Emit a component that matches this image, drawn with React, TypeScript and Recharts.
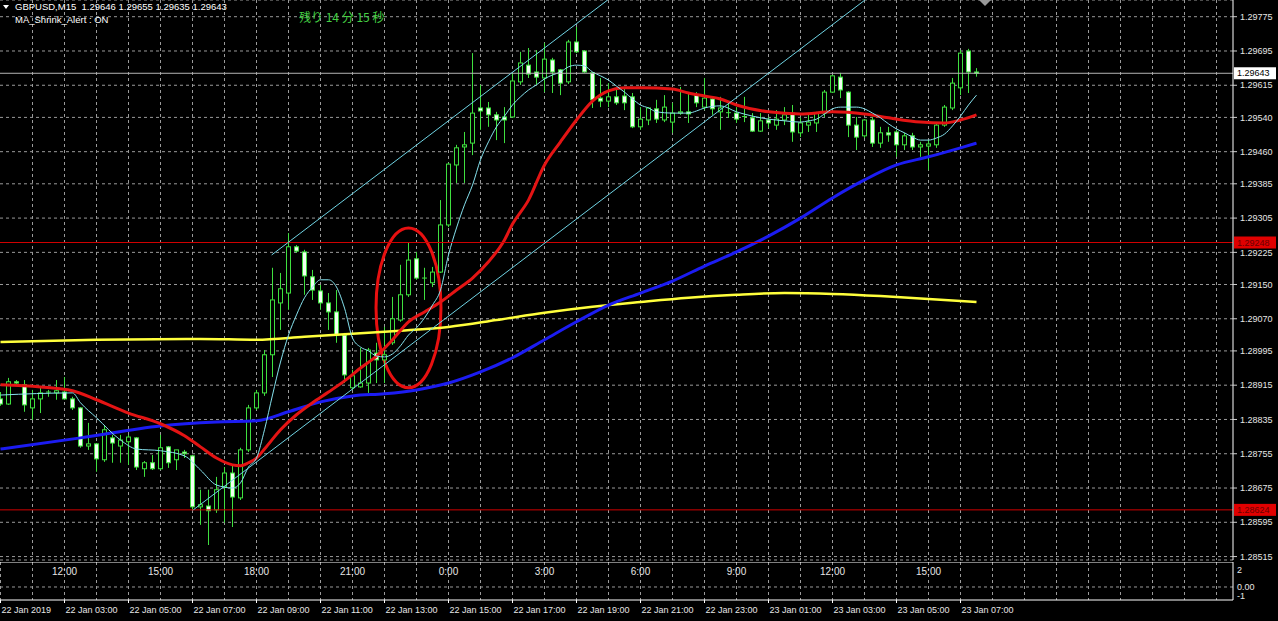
import React from "react";
import {
  ComposedChart,
  Bar,
  Line,
  Scatter,
  XAxis,
  YAxis,
  CartesianGrid,
  ReferenceLine,
  ReferenceArea,
} from "recharts";

// GBPUSD M15, 22 Jan 01:00 .. 23 Jan 07:30 (bar index k)
const symbol = "GBPUSD,M15";

const opens = [
  1.28883, 1.28871, 1.28923, 1.28916, 1.28862, 1.28883, 1.28897, 1.28897, 1.28899, 1.28883,
  1.28862, 1.28773, 1.28778, 1.28741, 1.28792, 1.28773, 1.28783, 1.28792, 1.2872, 1.28734,
  1.2872, 1.28771, 1.28741, 1.28759, 1.2875, 1.28631, 1.28633, 1.28624, 1.28678, 1.2871,
  1.28652, 1.28764, 1.28862, 1.28897, 1.28986, 1.29107, 1.2913, 1.29238, 1.29226, 1.29168,
  1.29135, 1.29107, 1.29086, 1.29032, 1.28909, 1.28911, 1.2892, 1.2899, 1.28974, 1.29014,
  1.29067, 1.29126, 1.2921, 1.29165, 1.29154, 1.29179, 1.29289, 1.29429, 1.29471, 1.2948,
  1.29562, 1.29562, 1.29546, 1.29541, 1.29541, 1.29623, 1.29662, 1.29646, 1.29632, 1.29674,
  1.29651, 1.29623, 1.29716, 1.29695, 1.29644, 1.29585, 1.29578, 1.29588, 1.2959, 1.29588,
  1.29518, 1.29534, 1.2956, 1.29534, 1.29529, 1.2955, 1.29553, 1.29592, 1.29564, 1.29583,
  1.29553, 1.2955, 1.2955, 1.29541, 1.29539, 1.29508, 1.29534, 1.29522, 1.29534, 1.2955,
  1.29504, 1.29522, 1.29527, 1.2955, 1.29599, 1.29634, 1.29599, 1.29522, 1.29497, 1.29534,
  1.2948, 1.29504, 1.29506, 1.29476, 1.29497, 1.29471, 1.29473, 1.29476, 1.29522, 1.29562,
  1.29609, 1.29695, 1.29646,
];
const highs = [
  1.28899, 1.28932, 1.28927, 1.28927, 1.28904, 1.28909, 1.28904, 1.28927, 1.28934, 1.28888,
  1.28864, 1.28827, 1.2878, 1.28822, 1.28799, 1.28799, 1.28799, 1.28794, 1.28738, 1.28752,
  1.28799, 1.28773, 1.28764, 1.28764, 1.28752, 1.28671, 1.28671, 1.28701, 1.28724, 1.28729,
  1.28769, 1.28869, 1.28904, 1.28997, 1.29189, 1.29177, 1.2927, 1.29242, 1.29231, 1.29184,
  1.29149, 1.2913, 1.29137, 1.29037, 1.28951, 1.29002, 1.29002, 1.29014, 1.29051, 1.29121,
  1.29196, 1.29247, 1.29226, 1.29189, 1.29191, 1.29347, 1.29434, 1.29476, 1.29506, 1.2969,
  1.29616, 1.29576, 1.29553, 1.29564, 1.29644, 1.29693, 1.29702, 1.29697, 1.29714, 1.29679,
  1.29653, 1.29721, 1.29751, 1.29697, 1.29646, 1.29632, 1.2962, 1.29609, 1.29611, 1.29597,
  1.29564, 1.29564, 1.29581, 1.29592, 1.29574, 1.29611, 1.29597, 1.29599, 1.29632, 1.29585,
  1.29588, 1.29574, 1.29564, 1.29588, 1.2955, 1.2955, 1.29541, 1.29557, 1.29564, 1.29569,
  1.29539, 1.2955, 1.29553, 1.29604, 1.29639, 1.29644, 1.29601, 1.29541, 1.29536, 1.29541,
  1.29518, 1.29518, 1.29511, 1.29504, 1.29504, 1.29483, 1.29487, 1.29527, 1.29569, 1.29632,
  1.29697, 1.297, 1.29655,
];
const lows = [
  1.28867, 1.28869, 1.28913, 1.28853, 1.28834, 1.2885, 1.28888, 1.28881, 1.28881, 1.28857,
  1.28769, 1.28764, 1.28713, 1.28736, 1.28734, 1.28734, 1.28729, 1.28717, 1.28701, 1.28717,
  1.28717, 1.28722, 1.28717, 1.28745, 1.28624, 1.28589, 1.28542, 1.28617, 1.28594, 1.28584,
  1.28647, 1.28759, 1.28857, 1.2889, 1.28934, 1.29044, 1.29091, 1.29224, 1.29126, 1.29114,
  1.29091, 1.29044, 1.29014, 1.2892, 1.28904, 1.28909, 1.28897, 1.2892, 1.2892, 1.29009,
  1.29063, 1.29121, 1.29161, 1.29114, 1.29144, 1.29177, 1.29284, 1.29387, 1.29387, 1.29452,
  1.29511, 1.29518, 1.29487, 1.2948, 1.29539, 1.29616, 1.29632, 1.29616, 1.29599, 1.29597,
  1.29592, 1.29618, 1.2969, 1.29644, 1.29562, 1.29564, 1.29564, 1.29569, 1.29557, 1.29515,
  1.29511, 1.29522, 1.29527, 1.29529, 1.29504, 1.29546, 1.29527, 1.29564, 1.29557, 1.29546,
  1.29511, 1.29539, 1.29527, 1.29529, 1.29506, 1.29506, 1.29515, 1.29511, 1.29522, 1.29483,
  1.29494, 1.29506, 1.29506, 1.29541, 1.29597, 1.29585, 1.29494, 1.29464, 1.29492, 1.29471,
  1.29469, 1.29483, 1.29448, 1.29464, 1.29464, 1.29448, 1.29417, 1.29469, 1.29518, 1.29557,
  1.29592, 1.29597, 1.29635,
];
const closes = [
  1.28871, 1.28923, 1.2892, 1.28869, 1.28883, 1.28897, 1.28899, 1.28902, 1.28883, 1.28862,
  1.28773, 1.28778, 1.28743, 1.28811, 1.2878, 1.28787, 1.28794, 1.28724, 1.28734, 1.2872,
  1.28769, 1.28734, 1.28764, 1.28755, 1.28631, 1.28636, 1.28622, 1.28671, 1.2871, 1.28654,
  1.28764, 1.28862, 1.28897, 1.28986, 1.29114, 1.2914, 1.29238, 1.29228, 1.2917, 1.29137,
  1.29107, 1.29086, 1.29032, 1.28939, 1.28937, 1.2892, 1.28997, 1.28974, 1.28986, 1.2907,
  1.29126, 1.29207, 1.29165, 1.29163, 1.29179, 1.29289, 1.29431, 1.29469, 1.29476, 1.2955,
  1.29555, 1.29546, 1.29534, 1.29534, 1.29625, 1.29667, 1.29641, 1.29634, 1.29676, 1.29646,
  1.2962, 1.29716, 1.29693, 1.29646, 1.29581, 1.29578, 1.29588, 1.29574, 1.29574, 1.29518,
  1.29536, 1.29562, 1.29536, 1.29564, 1.2955, 1.29553, 1.29548, 1.29574, 1.29585, 1.2956,
  1.29562, 1.29551, 1.29536, 1.29542, 1.29508, 1.29532, 1.29527, 1.29536, 1.29546, 1.29506,
  1.29527, 1.29529, 1.2955, 1.29599, 1.29637, 1.29604, 1.29522, 1.29494, 1.29534, 1.2948,
  1.29504, 1.29499, 1.29476, 1.29497, 1.29471, 1.29476, 1.29478, 1.29522, 1.29564, 1.2962,
  1.2969, 1.29646, 1.29643,
];

// moving averages: [bar, price]
const fastMA: [number, number][] = [
  [0, 1.28892], [9, 1.28897], [10, 1.28874], [12, 1.28839], [15, 1.28787], [17, 1.28766],
  [20, 1.28762], [23, 1.2875], [25, 1.28717], [27, 1.28682], [29, 1.28675], [30, 1.28687],
  [31, 1.28724], [32, 1.28745], [33, 1.28811], [34, 1.28892], [35, 1.28969], [36, 1.29032],
  [37, 1.29079], [38, 1.29119], [39, 1.29144], [40, 1.29161], [41, 1.29161], [42, 1.29144],
  [43, 1.29095], [44, 1.29025], [45, 1.29004], [46, 1.28995], [47, 1.28983], [48, 1.28981],
  [49, 1.28988], [50, 1.29007], [51, 1.29032], [52, 1.29049], [53, 1.29072], [54, 1.29102],
  [55, 1.29137], [56, 1.29219], [57, 1.29282], [58, 1.29336], [59, 1.29382], [60, 1.29441],
  [61, 1.29483], [62, 1.29518], [63, 1.29543], [64, 1.29569], [65, 1.29588], [66, 1.29604],
  [67, 1.29616], [68, 1.2963], [69, 1.29639], [70, 1.29646], [71, 1.29658], [72, 1.29662],
  [73, 1.2966], [74, 1.29646], [75, 1.29637], [76, 1.29627], [77, 1.29613], [78, 1.29599],
  [79, 1.29583], [80, 1.29569], [81, 1.29562], [82, 1.29553], [84, 1.2955], [86, 1.2955],
  [87, 1.29555], [88, 1.29562], [90, 1.29567], [92, 1.29553], [94, 1.29543], [96, 1.29536],
  [98, 1.29532], [100, 1.29529], [101, 1.29532], [102, 1.29536], [103, 1.29548], [104, 1.2956],
  [105, 1.29564], [107, 1.29564], [108, 1.2956], [109, 1.2955], [110, 1.29539], [111, 1.29525],
  [112, 1.29513], [113, 1.29504], [114, 1.29494], [115, 1.29487], [116, 1.29487], [117, 1.29492],
  [118, 1.29501], [119, 1.2952], [120, 1.29543], [121, 1.29569], [122, 1.29592],
];
const midMA: [number, number][] = [
  [0, 1.28916], [5, 1.28911], [9, 1.28902], [12, 1.28881], [16, 1.2885], [20, 1.28825],
  [23, 1.28797], [25, 1.28771], [27, 1.28745], [29, 1.28729], [30, 1.28727], [31, 1.28734],
  [32, 1.28745], [33, 1.28766], [35, 1.28811], [37, 1.28846], [39, 1.28874], [41, 1.28899],
  [43, 1.28925], [45, 1.28955], [47, 1.28983], [49, 1.29021], [51, 1.29063], [53, 1.29086],
  [55, 1.29109], [57, 1.29137], [59, 1.29165], [61, 1.29203], [63, 1.29254], [64, 1.29291],
  [66, 1.29347], [68, 1.29429], [70, 1.29483], [72, 1.29534], [74, 1.29578], [76, 1.29602],
  [78, 1.29609], [80, 1.29609], [84, 1.29606], [86, 1.29597], [88, 1.2959], [90, 1.29583],
  [92, 1.29569], [96, 1.29553], [100, 1.29548], [104, 1.29553], [108, 1.29548], [111, 1.29539],
  [115, 1.29529], [118, 1.29527], [120, 1.29534], [122, 1.29546],
];
const slowMA: [number, number][] = [
  [0, 1.28766], [10, 1.28792], [20, 1.2882], [27, 1.28829], [32, 1.28832], [36, 1.28853],
  [40, 1.28876], [44, 1.2889], [48, 1.28895], [52, 1.28904], [56, 1.2892], [60, 1.28946],
  [64, 1.28979], [68, 1.29021], [72, 1.29063], [76, 1.29102], [80, 1.2913], [84, 1.29158],
  [88, 1.29193], [92, 1.29226], [96, 1.29263], [100, 1.29305], [104, 1.29352], [108, 1.29394],
  [112, 1.29429], [116, 1.29448], [120, 1.29469], [122, 1.2948],
];
const longMA: [number, number][] = [
  [0, 1.29016], [12, 1.29021], [25, 1.29023], [32, 1.29021], [38, 1.29028], [44, 1.29035],
  [50, 1.29042], [56, 1.29051], [62, 1.29067], [68, 1.29084], [74, 1.29098], [80, 1.29109],
  [86, 1.29119], [92, 1.29126], [98, 1.2913], [104, 1.29128], [110, 1.29123], [116, 1.29116],
  [122, 1.29109],
];

// trend channel anchors [bar, price] and the hand-drawn ellipse box
const channelUpper: [number, number][] = [[33.9, 1.29219], [75.9, 1.29814]];
const channelLower: [number, number][] = [[24.1, 1.28624], [108.06, 1.29814]];
const ellipseBars = [46.94, 55.06];
const ellipsePrices = [1.28909, 1.29282];

const levelLines = [1.29248, 1.28624];
const priceTicks = [
  1.29775, 1.29695, 1.29615, 1.2954, 1.2946, 1.29385, 1.29305, 1.29225, 1.2915,
  1.2907, 1.28995, 1.28915, 1.28835, 1.28755, 1.28675, 1.28595, 1.28515,
];
const priceDomain = [1.28507, 1.29814];
const barDomain = [-0.0625, 154.0625];
const gridBars = Array.from({ length: 39 }, (_, i) => i * 4);

const dateTicks = [0, 8, 16, 24, 32, 40, 48, 56, 64, 72, 80, 88, 96, 104, 112, 120];
const dateLabels = [
  "22 Jan 2019", "22 Jan 03:00", "22 Jan 05:00", "22 Jan 07:00", "22 Jan 09:00",
  "22 Jan 11:00", "22 Jan 13:00", "22 Jan 15:00", "22 Jan 17:00", "22 Jan 19:00",
  "22 Jan 21:00", "22 Jan 23:00", "23 Jan 01:00", "23 Jan 03:00", "23 Jan 05:00",
  "23 Jan 07:00",
];
const localBars = [8, 20, 32, 44, 56, 68, 80, 92, 104, 116];
const localLabels = ["12:00", "15:00", "18:00", "21:00", "0:00", "3:00", "6:00", "9:00", "12:00", "15:00"];
const oscTicks = [2, 0, -1];

const GREEN = "#3fe03f";
const FONT = "'Liberation Sans', Arial, sans-serif";

const toMap = (arr: [number, number][]) => new Map(arr.map(([k, v]) => [k, v]));
const fastMap = toMap(fastMA);
const midMap = toMap(midMA);
const slowMap = toMap(slowMA);
const longMap = toMap(longMA);

const rows = opens.map((o, k) => ({
  k,
  o,
  h: highs[k],
  l: lows[k],
  c: closes[k],
  range: [lows[k], highs[k]],
  fast: fastMap.get(k) ?? null,
  mid: midMap.get(k) ?? null,
  slow: slowMap.get(k) ?? null,
  long: longMap.get(k) ?? null,
}));

const localRows = localBars.map((k, i) => ({ k, v: 1.8, label: localLabels[i] }));

function Candle(props: any) {
  const { x, y, width, height, payload } = props;
  if (x == null || y == null || !payload) return null;
  const top = Math.min(y, y + height);
  const span = Math.abs(height);
  const { o, h, l, c } = payload;
  const rng = h - l;
  const toY = (v: number) => (rng > 0 ? top + ((h - v) / rng) * span : top);
  const cx = Math.floor(x + width / 2) + 0.5;
  const bTop = toY(Math.max(o, c));
  const bBot = toY(Math.min(o, c));
  const bull = c >= o;
  return (
    <g>
      <line x1={cx} x2={cx} y1={toY(h)} y2={toY(l)} stroke={GREEN} strokeWidth={1} />
      {bBot - bTop < 1.2 ? (
        <line x1={cx - 2.5} x2={cx + 2.5} y1={bTop} y2={bTop} stroke={GREEN} strokeWidth={1} />
      ) : (
        <rect
          x={cx - 2}
          y={bTop}
          width={4}
          height={bBot - bTop}
          fill={bull ? "#000" : "#f2fff2"}
          stroke={GREEN}
          strokeWidth={1}
        />
      )}
    </g>
  );
}

const priceTag = (value: number, bg: string, fg: string) => (props: any) => {
  const vb = props.viewBox;
  if (!vb) return null;
  const x = vb.x + vb.width + 1;
  return (
    <g>
      <rect x={x} y={vb.y - 6} width={42} height={12} fill={bg} />
      <text x={x + 3} y={vb.y} dy="0.35em" fontSize={9} fontFamily={FONT} fill={fg}>
        {value.toFixed(5)}
      </text>
    </g>
  );
};

function DateTick(props: any) {
  const { x, y, payload } = props;
  const i = dateTicks.indexOf(payload.value);
  return (
    <text x={x + 1} y={y} dy="0.71em" fontSize={9} fontFamily={FONT} fill="#e6e6e6">
      {dateLabels[i]}
    </text>
  );
}

function LocalLabel(props: any) {
  const { cx, cy, payload } = props;
  return (
    <text x={cx} y={cy} dy="0.35em" textAnchor="middle" fontSize={10} fontFamily={FONT} fill="#e6e6e6">
      {payload.label}
    </text>
  );
}

function EllipseMark(props: any) {
  const { x, y, width, height } = props;
  return (
    <ellipse
      cx={x + width / 2}
      cy={y + height / 2}
      rx={width / 2}
      ry={height / 2}
      fill="none"
      stroke="#e81010"
      strokeWidth={3}
    />
  );
}

export default function App() {
  const last = rows[rows.length - 1];
  return (
    <div
      style={{
        position: "fixed",
        left: 0,
        top: 0,
        width: 1278,
        height: 621,
        background: "#000",
        overflow: "hidden",
        fontFamily: FONT,
      }}
    >
      <ComposedChart width={1278} height={562} data={rows} margin={{ top: 0, right: 0, bottom: 2, left: 0 }}>
        <CartesianGrid stroke="#9a9a9a" strokeDasharray="3 3" verticalValues={gridBars} />
        <XAxis type="number" dataKey="k" domain={barDomain} allowDataOverflow hide />
        <YAxis
          orientation="right"
          width={45}
          domain={priceDomain}
          allowDataOverflow
          ticks={priceTicks}
          interval={0}
          tickFormatter={(v: number) => v.toFixed(5)}
          tick={{ fill: "#e6e6e6", fontSize: 9, fontFamily: FONT }}
          tickSize={4}
          tickMargin={3}
          axisLine={{ stroke: "#ffffff" }}
          tickLine={{ stroke: "#cfcfcf" }}
        />
        <Bar dataKey="range" barSize={5} shape={<Candle />} isAnimationActive={false} />
        <Line type="monotone" dataKey="long" stroke="#ffff3c" strokeWidth={2.5} dot={false} activeDot={false} connectNulls isAnimationActive={false} />
        <Line type="monotone" dataKey="slow" stroke="#1c1cf2" strokeWidth={3} dot={false} activeDot={false} connectNulls isAnimationActive={false} />
        <Line type="monotone" dataKey="mid" stroke="#e41414" strokeWidth={3} dot={false} activeDot={false} connectNulls isAnimationActive={false} />
        <Line type="monotone" dataKey="fast" stroke="#86e2ee" strokeWidth={1} dot={false} activeDot={false} connectNulls isAnimationActive={false} />
        <ReferenceLine
          y={last.c}
          stroke="#b4b4b4"
          strokeWidth={1}
          label={priceTag(last.c, "#ffffff", "#000000")}
        />
        {levelLines.map((p) => (
          <ReferenceLine key={p} y={p} stroke="#d00000" strokeWidth={1} label={priceTag(p, "#e00000", "#6a0000")} />
        ))}
        <ReferenceLine
          segment={channelUpper.map(([x, y]) => ({ x, y }))}
          stroke="#6fd3e3"
          strokeWidth={1}
          ifOverflow="visible"
        />
        <ReferenceLine
          segment={channelLower.map(([x, y]) => ({ x, y }))}
          stroke="#6fd3e3"
          strokeWidth={1}
          ifOverflow="visible"
        />
        <ReferenceArea
          x1={ellipseBars[0]}
          x2={ellipseBars[1]}
          y1={ellipsePrices[0]}
          y2={ellipsePrices[1]}
          shape={<EllipseMark />}
        />
      </ComposedChart>

      <ComposedChart width={1278} height={59} data={localRows} margin={{ top: 0, right: 0, bottom: 0, left: 0 }}>
        <CartesianGrid stroke="#9a9a9a" strokeDasharray="3 3" verticalValues={gridBars} horizontal={false} />
        <XAxis
          type="number"
          dataKey="k"
          domain={barDomain}
          allowDataOverflow
          ticks={dateTicks}
          interval={0}
          height={21}
          tick={<DateTick />}
          tickSize={3}
          tickMargin={4}
          tickLine={{ stroke: "#ffffff" }}
          axisLine={{ stroke: "#ffffff" }}
        />
        <YAxis
          orientation="right"
          width={45}
          domain={[-1.53, 2.94]}
          allowDataOverflow
          ticks={oscTicks}
          interval={0}
          tickFormatter={(v: number) => (v === 0 ? "0.00" : String(v))}
          tick={{ fill: "#e6e6e6", fontSize: 9, fontFamily: FONT }}
          tickLine={false}
          tickSize={0}
          tickMargin={4}
          axisLine={{ stroke: "#ffffff" }}
        />
        <ReferenceLine y={0} stroke="#9a9a9a" strokeDasharray="3 3" />
        <ReferenceLine y={2.94} stroke="#ffffff" ifOverflow="visible" />
        <Scatter dataKey="v" shape={<LocalLabel />} isAnimationActive={false} />
      </ComposedChart>

      <div
        style={{
          position: "absolute",
          left: 3,
          top: 5,
          width: 0,
          height: 0,
          borderLeft: "3.5px solid transparent",
          borderRight: "3.5px solid transparent",
          borderTop: "4px solid #fff",
        }}
      />
      <div style={{ position: "absolute", left: 15, top: 1, color: "#fff", fontSize: 9.5, whiteSpace: "pre", lineHeight: "12px" }}>
        {`${symbol}  ${last.o.toFixed(5)} ${last.h.toFixed(5)} ${last.l.toFixed(5)} ${last.c.toFixed(5)}`}
      </div>
      <div style={{ position: "absolute", left: 15, top: 14, color: "#fff", fontSize: 9.5, whiteSpace: "pre", lineHeight: "12px" }}>
        MA_Shrink_Alert : ON
      </div>
      <div
        style={{
          position: "absolute",
          left: 299,
          top: 9,
          color: "#44d044",
          fontSize: 12,
          lineHeight: "16px",
          whiteSpace: "pre",
          fontFamily: "'Noto Sans CJK JP', sans-serif",
        }}
      >
        残り 14 分 15 秒
      </div>
      <div
        style={{
          position: "absolute",
          left: 979,
          top: 0,
          width: 0,
          height: 0,
          borderLeft: "6px solid transparent",
          borderRight: "6px solid transparent",
          borderTop: "6px solid #9a9a9a",
        }}
      />
    </div>
  );
}
